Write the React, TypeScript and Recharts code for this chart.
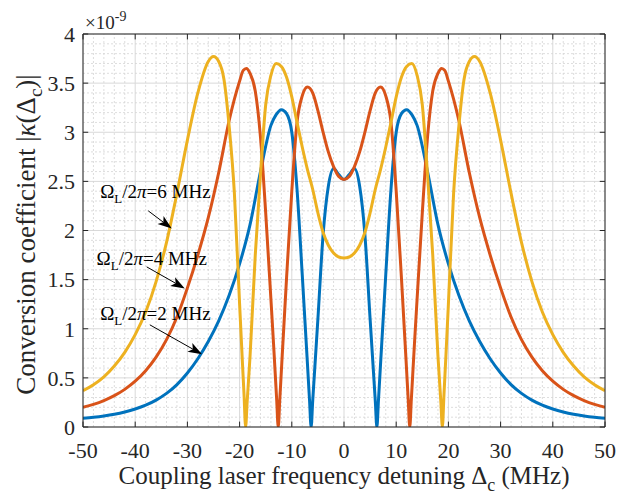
import { LineChart, Line, XAxis, YAxis, CartesianGrid, ReferenceLine, ReferenceDot } from 'recharts';

const xTicks = [-50, -40, -30, -20, -10, 0, 10, 20, 30, 40, 50];
const yTicks = [0, 0.5, 1, 1.5, 2, 2.5, 3, 3.5, 4];

// Omega_L / 2pi = 2 MHz
const blueX = [-50, -48, -46, -44, -42, -40, -38, -36, -34, -32, -30, -28, -26, -24, -22, -20, -18, -16, -14, -13, -12, -11, -10, -9, -8, -7, -6.6, -6.3, -6, -5, -4, -3, -2, -1, 0,
  1, 2, 3, 4, 5, 6, 6.3, 6.6, 7, 8, 9, 10, 11, 12, 13, 14, 16, 18, 20, 22, 24, 26, 28, 30, 32, 34, 36, 38, 40, 42, 44, 46, 48, 50];
const blueY = [0.09, 0.1, 0.113, 0.13, 0.153, 0.183, 0.222, 0.274, 0.342, 0.432, 0.55, 0.695, 0.87, 1.08, 1.34, 1.66, 2.06, 2.6, 3.07, 3.18, 3.23, 3.19, 3.0, 2.42, 1.55, 0.64, 0.27, 0, 0.26, 1.1, 1.96, 2.45, 2.63, 2.57, 2.52,
  2.57, 2.63, 2.45, 1.96, 1.1, 0.26, 0, 0.27, 0.64, 1.55, 2.42, 3.0, 3.19, 3.23, 3.18, 3.07, 2.6, 2.06, 1.66, 1.34, 1.08, 0.87, 0.695, 0.55, 0.432, 0.342, 0.274, 0.222, 0.183, 0.153, 0.13, 0.113, 0.1, 0.09];

// Omega_L / 2pi = 4 MHz
const orangeX = [-50, -48, -46, -44, -42, -40, -38, -36, -34, -32, -30, -28, -26, -24, -22, -20, -19.3, -18.7, -18, -17, -16, -15, -14, -13.5, -12.9, -12.6, -12.3, -12, -11, -10, -9, -8, -7, -6, -5, -4, -3, -2, -1, 0,
  1, 2, 3, 4, 5, 6, 7, 8, 9, 10, 11, 12, 12.3, 12.6, 12.9, 13.5, 14, 15, 16, 17, 18, 18.7, 19.3, 20, 22, 24, 26, 28, 30, 32, 34, 36, 38, 40, 42, 44, 46, 48, 50];
const orangeY = [0.2, 0.23, 0.269, 0.319, 0.383, 0.466, 0.573, 0.711, 0.889, 1.119, 1.416, 1.75, 2.13, 2.59, 3.12, 3.52, 3.63, 3.65, 3.6, 3.42, 2.95, 2.18, 1.3, 0.85, 0.28, 0, 0.28, 0.57, 1.52, 2.4, 3.1, 3.37, 3.46, 3.4, 3.22, 3.0, 2.8, 2.65, 2.55, 2.52,
  2.55, 2.65, 2.8, 3.0, 3.22, 3.4, 3.46, 3.37, 3.1, 2.4, 1.52, 0.57, 0.28, 0, 0.28, 0.85, 1.3, 2.18, 2.95, 3.42, 3.6, 3.65, 3.63, 3.52, 3.12, 2.59, 2.13, 1.75, 1.416, 1.119, 0.889, 0.711, 0.573, 0.466, 0.383, 0.319, 0.269, 0.23, 0.2];

// Omega_L / 2pi = 6 MHz
const yellowX = [-50, -48, -46, -44, -42, -40, -38, -36, -34, -32, -30, -28, -26, -25, -24, -23, -22, -21, -20, -19.5, -19.15, -18.85, -18.55, -18, -17, -16, -15, -14, -13, -12, -11, -10, -9, -8, -7, -6, -5, -4, -3, -2, -1, 0,
  1, 2, 3, 4, 5, 6, 7, 8, 9, 10, 11, 12, 13, 14, 15, 16, 17, 18, 18.55, 18.85, 19.15, 19.5, 20, 21, 22, 23, 24, 25, 26, 28, 30, 32, 34, 36, 38, 40, 42, 44, 46, 48, 50];
const yellowY = [0.37, 0.43, 0.51, 0.62, 0.76, 0.94, 1.17, 1.48, 1.88, 2.38, 2.92, 3.4, 3.72, 3.77, 3.72, 3.54, 3.06, 2.38, 1.25, 0.7, 0.33, 0, 0.26, 0.72, 1.75, 2.57, 3.28, 3.58, 3.7, 3.67, 3.56, 3.36, 3.1, 2.85, 2.62, 2.42, 2.18, 1.98, 1.85, 1.77, 1.73, 1.72,
  1.73, 1.77, 1.85, 1.98, 2.18, 2.42, 2.62, 2.85, 3.1, 3.36, 3.56, 3.67, 3.7, 3.58, 3.28, 2.57, 1.75, 0.72, 0.26, 0, 0.33, 0.7, 1.25, 2.38, 3.06, 3.54, 3.72, 3.77, 3.72, 3.4, 2.92, 2.38, 1.88, 1.48, 1.17, 0.94, 0.76, 0.62, 0.51, 0.43, 0.37];

const toPoints = (xs: number[], ys: number[]) => xs.map((x, i) => ({ x, y: ys[i] }));
const bluePts = toPoints(blueX, blueY);
const orangePts = toPoints(orangeX, orangeY);
const yellowPts = toPoints(yellowX, yellowY);

const FONT = '"Liberation Serif", "Times New Roman", Times, serif';
const AXIS = '#262626';

const minorX: number[] = [];
for (let v = -48; v <= 48; v += 2) if (v % 10 !== 0) minorX.push(v);
const minorY: number[] = [];
for (let i = 1; i < 40; i++) if (i % 5 !== 0) minorY.push(i / 10);

// annotation text anchors and arrows (data coordinates)
const notes = [
  { omega: '6', at: [-46.7, 2.33], tail: [-37.5, 2.2], tip: [-33.0, 2.02] },
  { omega: '4', at: [-47.4, 1.65], tail: [-37.8, 1.63], tip: [-30.5, 1.41] },
  { omega: '2', at: [-46.7, 1.09], tail: [-37.2, 1.04], tip: [-27.2, 0.74] },
];

const Arrow = (p: any) => {
  const { x1, y1, x2, y2 } = p;
  const dx = x2 - x1;
  const dy = y2 - y1;
  const len = Math.hypot(dx, dy) || 1;
  const ux = dx / len;
  const uy = dy / len;
  const hl = 14;
  const hw = 5;
  const bx = x2 - ux * hl;
  const by = y2 - uy * hl;
  const nx = x2 - ux * hl * 0.75;
  const ny = y2 - uy * hl * 0.75;
  const pts = `${x2},${y2} ${bx - uy * hw},${by + ux * hw} ${nx},${ny} ${bx + uy * hw},${by - ux * hw}`;
  return (
    <g>
      <line x1={x1} y1={y1} x2={nx} y2={ny} stroke="#000" strokeWidth={1} />
      <polygon points={pts} fill="#000" />
    </g>
  );
};

const XTick = (p: any) => (
  <text x={p.x} y={p.y} dy="0.71em" textAnchor="middle" fontFamily={FONT} fontSize={22} fill={AXIS}>
    {p.payload.value}
  </text>
);

const YTick = (p: any) => (
  <text x={p.x} y={p.y} dy="0.355em" textAnchor="end" fontFamily={FONT} fontSize={22} fill={AXIS}>
    {p.payload.value}
  </text>
);

const XLabel = (props: any) => {
  const { x, y, width } = props.viewBox;
  return (
    <text x={x + width / 2} y={y + 57} textAnchor="middle" fontFamily={FONT} fontSize={25} fill={AXIS}>
      Coupling laser frequency detuning Δ<tspan dy={7} fontSize={18}>c</tspan>
      <tspan dy={-7}> (MHz)</tspan>
    </text>
  );
};

const YLabel = (props: any) => {
  const { y, height } = props.viewBox;
  const cy = y + height / 2 + 4;
  return (
    <text x={0} y={0} transform={`translate(35, ${cy}) rotate(-90)`} textAnchor="middle" fontFamily={FONT} fontSize={27} fill={AXIS}>
      Conversion coefficient |<tspan fontStyle="italic">κ</tspan>(Δ<tspan dy={7} fontSize={19}>c</tspan>
      <tspan dy={-7}>)|</tspan>
    </text>
  );
};

export default function App() {
  return (
    <div style={{ position: 'absolute', left: 0, top: 0, width: 617, height: 498, background: '#fff', fontFamily: FONT }}>
      <LineChart width={617} height={498} margin={{ top: 34, right: 12, bottom: 0, left: 0 }}>
        {minorX.map((v) => (
          <ReferenceLine key={'mx' + v} x={v} stroke="#d4d4d4" strokeWidth={0.8} strokeDasharray="2 2" />
        ))}
        {minorY.map((v) => (
          <ReferenceLine key={'my' + v} y={v} stroke="#d4d4d4" strokeWidth={0.8} strokeDasharray="2 2" />
        ))}
        <CartesianGrid stroke="#d9d9d9" strokeWidth={1} />
        <XAxis
          dataKey="x"
          type="number"
          domain={[-50, 50]}
          ticks={xTicks}
          interval={0}
          allowDataOverflow
          tickLine={false}
          tickSize={0}
          tickMargin={15}
          axisLine={{ stroke: AXIS, strokeWidth: 1 }}
          tick={XTick}
          height={71}
          label={{ content: XLabel }}
        />
        <YAxis
          type="number"
          domain={[0, 4]}
          ticks={yTicks}
          interval={0}
          allowDataOverflow
          tickLine={false}
          tickSize={0}
          tickMargin={8}
          axisLine={{ stroke: AXIS, strokeWidth: 1 }}
          tick={YTick}
          width={83}
          label={{ content: YLabel }}
        />
        <Line data={bluePts} dataKey="y" type="monotone" stroke="#0072BD" strokeWidth={3} dot={false} isAnimationActive={false} />
        <Line data={orangePts} dataKey="y" type="monotone" stroke="#D95319" strokeWidth={3} dot={false} isAnimationActive={false} />
        <Line data={yellowPts} dataKey="y" type="monotone" stroke="#EDB120" strokeWidth={3} dot={false} isAnimationActive={false} />
        <ReferenceLine y={4} stroke={AXIS} strokeWidth={1} />
        <ReferenceLine x={50} stroke={AXIS} strokeWidth={1} />
        {xTicks.map((v) => (
          <ReferenceLine key={'tb' + v} segment={[{ x: v, y: 0 }, { x: v, y: 0.055 }]} stroke={AXIS} />
        ))}
        {xTicks.map((v) => (
          <ReferenceLine key={'tt' + v} segment={[{ x: v, y: 4 }, { x: v, y: 3.945 }]} stroke={AXIS} />
        ))}
        {yTicks.map((v) => (
          <ReferenceLine key={'tl' + v} segment={[{ x: -50, y: v }, { x: -49, y: v }]} stroke={AXIS} />
        ))}
        {yTicks.map((v) => (
          <ReferenceLine key={'tr' + v} segment={[{ x: 50, y: v }, { x: 49, y: v }]} stroke={AXIS} />
        ))}
        {notes.map((n) => (
          <ReferenceLine
            key={'ar' + n.omega}
            segment={[{ x: n.tail[0], y: n.tail[1] }, { x: n.tip[0], y: n.tip[1] }]}
            shape={Arrow}
          />
        ))}
        {notes.map((n) => (
          <ReferenceDot
            key={'nt' + n.omega}
            x={n.at[0]}
            y={n.at[1]}
            r={0}
            shape={(p: any) => (
              <text x={p.cx} y={p.cy} fontFamily={FONT} fontSize={19} fill="#000">
                Ω<tspan dy={5} fontSize={13}>L</tspan>
                <tspan dy={-5}>/2</tspan>
                <tspan fontStyle="italic">π</tspan>={n.omega} MHz
              </text>
            )}
          />
        ))}
        <ReferenceDot
          x={-50}
          y={4}
          r={0}
          shape={(p: any) => (
            <text x={p.cx + 2} y={p.cy - 5} fontFamily={FONT} fontSize={19} fill={AXIS}>
              ×10<tspan dy={-8} fontSize={14}>-9</tspan>
            </text>
          )}
        />
      </LineChart>
    </div>
  );
}
